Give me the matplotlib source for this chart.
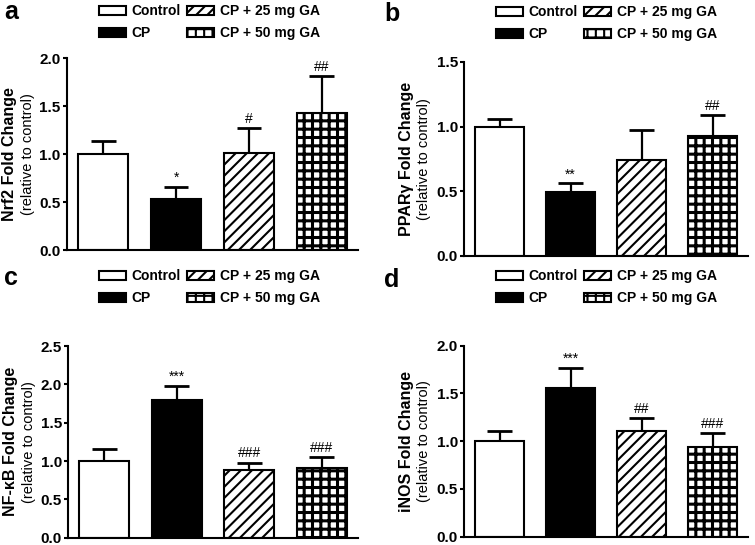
import numpy as np
import matplotlib
matplotlib.use('Agg')
import matplotlib.pyplot as plt

plt.rcParams['font.family'] = ['Liberation Sans', 'DejaVu Sans']
plt.rcParams['hatch.linewidth'] = 1.5
plt.rcParams['hatch.color'] = 'black'

groups = ['Control', 'CP', 'CP + 25 mg GA', 'CP + 50 mg GA']
hatches = ['', '', '///', '++']
hatch_lw = [1.5, 1.5, 1.5, 2.2]
faces = ['white', 'black', 'white', 'white']

nrf2_mean = [1.00, 0.53, 1.01, 1.43]
nrf2_err = [0.14, 0.13, 0.26, 0.38]
nrf2_sig = ['', '*', '#', '##']

ppar_mean = [1.00, 0.49, 0.74, 0.93]
ppar_err = [0.06, 0.07, 0.23, 0.16]
ppar_sig = ['', '**', '', '##']

nfkb_mean = [1.00, 1.79, 0.88, 0.91]
nfkb_err = [0.16, 0.19, 0.10, 0.14]
nfkb_sig = ['', '***', '###', '###']

inos_mean = [1.00, 1.56, 1.11, 0.94]
inos_err = [0.11, 0.21, 0.13, 0.145]
inos_sig = ['', '***', '##', '###']

W, H = 755, 545
fig = plt.figure(figsize=(W / 100, H / 100), dpi=100)


def px(x, y):
    # pixel position -> figure fraction
    return x / W, 1 - y / H


def panel(rect, letter, letter_xy, leg_xy, label1, label2, lab_x, mean, err, sig, ymax, ystep):
    ax = fig.add_axes(rect)
    x = np.arange(len(mean))
    bars = ax.bar(x, mean, width=0.69, color=faces, edgecolor='black',
                  linewidth=1.5, zorder=2)
    for b, h, lw in zip(bars, hatches, hatch_lw):
        if h:
            b.set_hatch(h)
            if hasattr(b, 'set_hatch_linewidth'):
                b.set_hatch_linewidth(lw)
    top = np.array(mean) + np.array(err)
    ax.vlines(x, mean, top, color='black', linewidth=1.6, zorder=1)
    ax.hlines(top, x - 0.17, x + 0.17, color='black', linewidth=2.0, zorder=1)
    for xi, t, s in zip(x, top, sig):
        if s:
            ax.annotate(s, (xi, t), xytext=(0, 1.5), textcoords='offset points',
                        ha='center', va='bottom', fontsize=10)
    ticks = np.arange(0, ymax + 1e-9, ystep)
    ax.set_xlim(-0.5, 3.5)
    ax.set_ylim(0, ymax)
    ax.set_yticks(ticks)
    ax.set_yticklabels(['%.1f' % v for v in ticks], fontsize=11, fontweight='bold')
    ax.set_xticks([])
    for s in ['top', 'right']:
        ax.spines[s].set_visible(False)
    for s in ['left', 'bottom']:
        ax.spines[s].set_linewidth(1.5)
    ax.tick_params(axis='y', length=3, width=1.5, pad=1.5)

    cy = rect[1] + rect[3] / 2
    fig.text(px(lab_x, 0)[0], cy, label1, rotation=90, ha='center', va='center',
             fontsize=11.5, fontweight='bold')
    fig.text(px(lab_x + 18, 0)[0], cy, label2, rotation=90, ha='center', va='center',
             fontsize=10.5)
    fig.text(*px(*letter_xy), letter, ha='left', va='center', fontsize=18, fontweight='bold')

    fig.legend(handles=list(bars), labels=groups, ncol=2, loc='upper left',
               bbox_to_anchor=px(*leg_xy), frameon=False, borderpad=0,
               borderaxespad=0, handlelength=1.95, handleheight=0.6,
               handletextpad=0.4, columnspacing=0.45, labelspacing=0.6,
               prop={'size': 10, 'weight': 'bold'})
    return ax


panel([67 / W, 1 - 250 / H, 291 / W, 192 / H], 'a', (4, 12), (99, 4),
      'Nrf2 Fold Change', '(relative to control)', 10,
      nrf2_mean, nrf2_err, nrf2_sig, 2.0, 0.5)
panel([464 / W, 1 - 255.7 / H, 284 / W, 193.7 / H], 'b', (384, 14), (496, 5),
      'PPARγ Fold Change', '(relative to control)', 406,
      ppar_mean, ppar_err, ppar_sig, 1.5, 0.5)
panel([68 / W, 1 - 537.7 / H, 290 / W, 191.7 / H], 'c', (4, 278), (99, 269),
      'NF-κB Fold Change', '(relative to control)', 11,
      nfkb_mean, nfkb_err, nfkb_sig, 2.5, 0.5)
panel([464 / W, 1 - 536.7 / H, 284 / W, 191 / H], 'd', (384, 280), (496, 269),
      'iNOS Fold Change', '(relative to control)', 406,
      inos_mean, inos_err, inos_sig, 2.0, 0.5)

fig.savefig('out.png', dpi=100)
